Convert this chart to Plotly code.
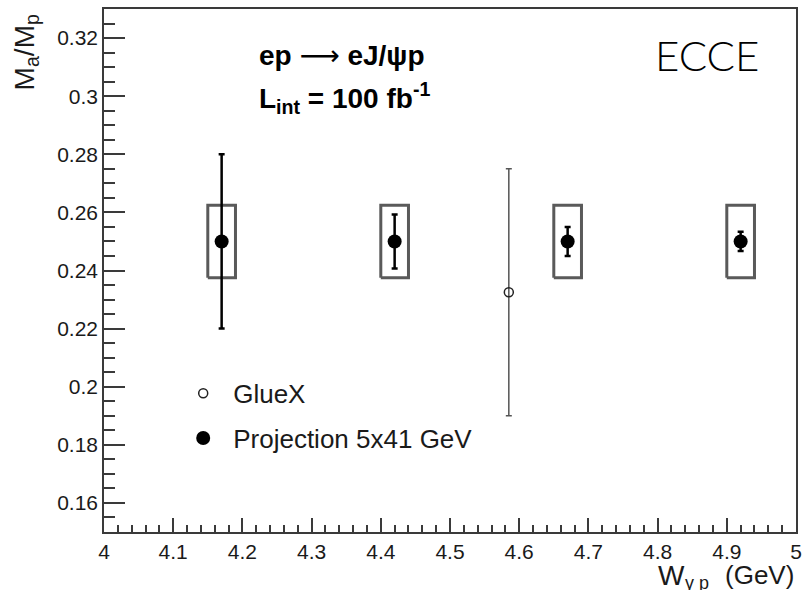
import plotly.graph_objects as go

# Projected measurement points (5x41 GeV, 100 fb^-1)
proj_w = [4.17, 4.42, 4.67, 4.92]
proj_ratio = [0.25, 0.25, 0.25, 0.25]
proj_stat = [0.030, 0.0093, 0.005, 0.0033]
proj_sys = [0.0125, 0.0125, 0.0125, 0.0125]
box_half_w = 0.02

# GlueX measurement
gluex_w = [4.585]
gluex_ratio = [0.2325]
gluex_err = [0.0425]

# Axis ticks
x_ticks = [4.0, 4.1, 4.2, 4.3, 4.4, 4.5, 4.6, 4.7, 4.8, 4.9, 5.0]
x_tick_labels = ["4", "4.1", "4.2", "4.3", "4.4", "4.5", "4.6", "4.7", "4.8", "4.9", "5"]
y_ticks = [0.16, 0.18, 0.20, 0.22, 0.24, 0.26, 0.28, 0.30, 0.32]
y_tick_labels = ["0.16", "0.18", "0.2", "0.22", "0.24", "0.26", "0.28", "0.3", "0.32"]

FONT = "Liberation Sans, Arial, Helvetica, sans-serif"
AXIS_COLOR = "#3a3a3a"
BOX_COLOR = "#5a5a5a"
TEXT_COLOR = "#1a1a1a"

fig = go.Figure()

# Systematic uncertainty boxes
for w, r, s in zip(proj_w, proj_ratio, proj_sys):
    fig.add_trace(go.Scatter(
        x=[w - box_half_w, w + box_half_w, w + box_half_w, w - box_half_w, w - box_half_w],
        y=[r - s, r - s, r + s, r + s, r - s],
        mode="lines",
        line=dict(color=BOX_COLOR, width=3),
        showlegend=False,
        hoverinfo="skip",
    ))

fig.add_trace(go.Scatter(
    x=gluex_w, y=gluex_ratio,
    mode="markers",
    name="GlueX",
    legendgroup="g1",
    marker=dict(symbol="circle-open", size=9, color="#222222", line=dict(width=1.5)),
    error_y=dict(type="data", array=gluex_err, color="#555555", thickness=1.5, width=3),
))

fig.add_trace(go.Scatter(
    x=proj_w, y=proj_ratio,
    mode="markers",
    name="Projection 5x41 GeV",
    legendgroup="g2",
    marker=dict(symbol="circle", size=14, color="black"),
    error_y=dict(type="data", array=proj_stat, color="black", thickness=2.5, width=3),
))

axis_common = dict(
    showline=True, mirror=True, linecolor=AXIS_COLOR, linewidth=1.5,
    ticks="inside", tickcolor=AXIS_COLOR, tickwidth=1.5,
    showgrid=False, zeroline=False,
    ticklabeloverflow="allow",
    tickfont=dict(family=FONT, size=21, color=TEXT_COLOR),
)

fig.update_xaxes(
    range=[4.0, 5.0],
    tickmode="array", tickvals=x_ticks, ticktext=x_tick_labels,
    ticklen=14,
    minor=dict(tickmode="linear", tick0=4.0, dtick=0.02, ticks="inside",
               ticklen=7, tickcolor=AXIS_COLOR, tickwidth=1.5),
    **axis_common,
)
fig.update_yaxes(
    range=[0.15, 0.33],
    tickmode="array", tickvals=y_ticks, ticktext=y_tick_labels,
    ticklen=21,
    minor=dict(tickmode="linear", tick0=0.15, dtick=0.005, ticks="inside",
               ticklen=11, tickcolor=AXIS_COLOR, tickwidth=1.5),
    **axis_common,
)

annotations = [
    dict(text="<b>ep</b> <span style='font-family:DejaVu Sans'>\u27f6</span> <b>eJ/\u03c8p</b>",
         xref="paper", yref="paper",
         x=0.221, y=0.912, xanchor="left", yanchor="middle", showarrow=False,
         font=dict(family=FONT, size=28, color="black")),
    dict(text="<b>L<sub>int</sub> = 100 fb<sup>-1</sup></b>", xref="paper", yref="paper",
         x=0.221, y=0.83, xanchor="left", yanchor="middle", showarrow=False,
         font=dict(family=FONT, size=28, color="black")),
    dict(text="ECCE", xref="paper", yref="paper",
         x=0.872, y=0.912, xanchor="center", yanchor="middle", showarrow=False,
         font=dict(family="Lato, Open Sans, sans-serif", size=42, color="black", weight=300)),
    dict(text="M<sub>a</sub>/M<sub>p</sub>", xref="paper", yref="paper",
         x=-0.112, y=0.918, xanchor="center", yanchor="middle", showarrow=False,
         textangle=-90,
         font=dict(family=FONT, size=28, color=TEXT_COLOR)),
    # x-axis title, assembled from its three parts: W, subscript, unit
    dict(text="W", xref="paper", yref="paper",
         x=0.797, y=-0.083, xanchor="left", yanchor="middle", showarrow=False,
         font=dict(family=FONT, size=28, color=TEXT_COLOR)),
    dict(text="\u03b3 p", xref="paper", yref="paper",
         x=0.836, y=-0.097, xanchor="left", yanchor="middle", showarrow=False,
         font=dict(family=FONT, size=18, color=TEXT_COLOR)),
    dict(text="(GeV)", xref="paper", yref="paper",
         x=1.0, y=-0.083, xanchor="right", yanchor="middle", showarrow=False,
         font=dict(family=FONT, size=26, color=TEXT_COLOR)),
]

fig.update_layout(
    width=805, height=590,
    margin=dict(l=104, r=3, t=9, b=58),
    paper_bgcolor="white", plot_bgcolor="white",
    showlegend=True,
    legend=dict(
        x=0.1, y=0.31, xanchor="left", yanchor="top",
        bgcolor="rgba(0,0,0,0)", borderwidth=0,
        font=dict(family=FONT, size=26, color=TEXT_COLOR),
        traceorder="grouped", tracegroupgap=8,
        itemwidth=50,
    ),
    annotations=annotations,
)

fig.write_html("out.html")
